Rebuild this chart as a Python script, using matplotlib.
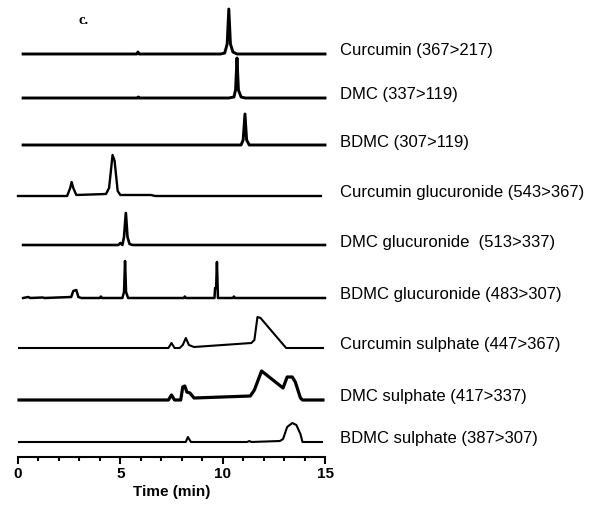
import matplotlib.pyplot as plt
from matplotlib.ticker import MultipleLocator

# MRM traces: (time in min, signal above baseline, relative units)
labels = [
    'Curcumin (367>217)',
    'DMC (337>119)',
    'BDMC (307>119)',
    'Curcumin glucuronide (543>367)',
    'DMC glucuronide  (513>337)',
    'BDMC glucuronide (483>307)',
    'Curcumin sulphate (447>367)',
    'DMC sulphate (417>337)',
    'BDMC sulphate (387>307)',
]

curcumin_t = [0.25, 5.8, 5.86, 5.92, 9.9, 10.1, 10.22, 10.3, 10.38, 10.5, 10.7, 15.0]
curcumin_y = [0, 0, 2, 0, 0, 1, 10, 45, 10, 2, 0, 0]

dmc_t = [0.25, 5.85, 5.88, 5.92, 10.3, 10.55, 10.63, 10.7, 10.77, 10.9, 11.1, 15.0]
dmc_y = [0, 0, 1, 0, 0, 1, 8, 40, 8, 1, 0, 0]

bdmc_t = [0.25, 10.9, 11.0, 11.09, 11.17, 11.3, 15.0]
bdmc_y = [0, 0, 5, 31, 5, 0, 0]

cur_gluc_t = [0.0, 2.4, 2.55, 2.62, 2.7, 2.85, 4.3, 4.45, 4.62, 4.72, 4.87, 5.0, 6.5, 6.7, 14.8]
cur_gluc_y = [0, 0, 8, 14, 8, 1, 2, 8, 41, 35, 5, 1, 1, 0, 0]

dmc_gluc_t = [0.25, 4.9, 5.0, 5.1, 5.18, 5.27, 5.35, 5.45, 5.6, 15.0]
dmc_gluc_y = [0, 0, 2, 0, 8, 32, 8, 1, 0, 0]

bdmc_gluc_t = [0.25, 0.5, 0.6, 1.2, 1.3, 2.6, 2.7, 2.85, 2.95, 3.1, 4.0, 4.05, 4.1,
               5.1, 5.18, 5.23, 5.28, 5.38, 8.1, 8.15, 8.2, 9.6, 9.63, 9.68, 9.72,
               9.77, 10.5, 10.55, 10.6, 15.0]
bdmc_gluc_y = [0, 1, 0, 0.5, 0, 1, 7, 8, 1, 0, 0, 1.5, 0,
               0, 6, 37, 6, 0, 0, 1.5, 0, 0, 10, 10, 36,
               0, 0, 1.5, 0, 0]

cur_sulf_t = [0.05, 7.35, 7.5, 7.65, 7.9, 8.05, 8.2, 8.35, 8.6, 11.4, 11.55, 11.7, 11.85, 13.1, 14.9]
cur_sulf_y = [0, 0, 5, 0, 0, 3, 10, 3, 1, 5, 8, 31, 30, 0, 0]

dmc_sulf_t = [0.05, 7.35, 7.5, 7.65, 7.95, 8.05, 8.15, 8.25, 8.4, 8.6, 11.35, 11.55, 11.9,
              12.95, 13.15, 13.4, 13.55, 13.8, 13.9, 14.9]
dmc_sulf_y = [0, 0, 5, 0, 0, 13, 14, 8, 7, 2, 4, 10, 29,
              12, 23, 23, 18, 2, 0, 0]

bdmc_sulf_t = [0.05, 8.2, 8.3, 8.45, 11.2, 11.3, 11.4, 12.8, 12.95, 13.15, 13.4, 13.6, 13.8, 13.9, 14.85]
bdmc_sulf_y = [0, 0, 5, 0, 0, 1, 0, 1, 3, 15, 19, 17, 8, 0, 0]

traces = [
    (curcumin_t, curcumin_y), (dmc_t, dmc_y), (bdmc_t, bdmc_y),
    (cur_gluc_t, cur_gluc_y), (dmc_gluc_t, dmc_gluc_y), (bdmc_gluc_t, bdmc_gluc_y),
    (cur_sulf_t, cur_sulf_y), (dmc_sulf_t, dmc_sulf_y), (bdmc_sulf_t, bdmc_sulf_y),
]

# layout: baseline of each trace (axis units) and line widths
baselines = [403, 359, 312, 261, 212, 159, 109, 57, 15]
widths = [2.1, 2.1, 2.1, 1.7, 1.9, 1.8, 1.5, 2.3, 1.5]

plt.rcParams['font.family'] = ['Liberation Sans', 'DejaVu Sans']

fig = plt.figure(figsize=(6.01, 5.14), dpi=100)
ax = fig.add_axes([18 / 601, 57 / 514, 307 / 601, 457 / 514])

for (t, y), base, lw, lab in zip(traces, baselines, widths, labels):
    ax.plot(t, [v + base for v in y], color='black', lw=lw, clip_on=False,
            solid_joinstyle='round')
    ax.text(15.73, base + 3, lab, fontsize=12, va='center', ha='left',
            clip_on=False)

ax.text(2.95, 437, 'c.', fontsize=10.5, fontweight='bold', family='Liberation Serif',
        va='center', ha='left')

ax.set_xlim(0, 15)
ax.set_ylim(0, 457)
for s in ['left', 'right', 'top']:
    ax.spines[s].set_visible(False)
ax.spines['bottom'].set_linewidth(1.5)
ax.set_yticks([])
ax.xaxis.set_major_locator(MultipleLocator(5))
ax.xaxis.set_minor_locator(MultipleLocator(1))
ax.tick_params(axis='x', which='major', length=5, width=1.5, labelsize=11, pad=2)
ax.tick_params(axis='x', which='minor', length=3, width=1.5)
for lbl in ax.get_xticklabels():
    lbl.set_fontweight('bold')
ax.set_xlabel('Time (min)', fontsize=11, fontweight='bold', labelpad=3)

fig.savefig('out.png', dpi=100)
